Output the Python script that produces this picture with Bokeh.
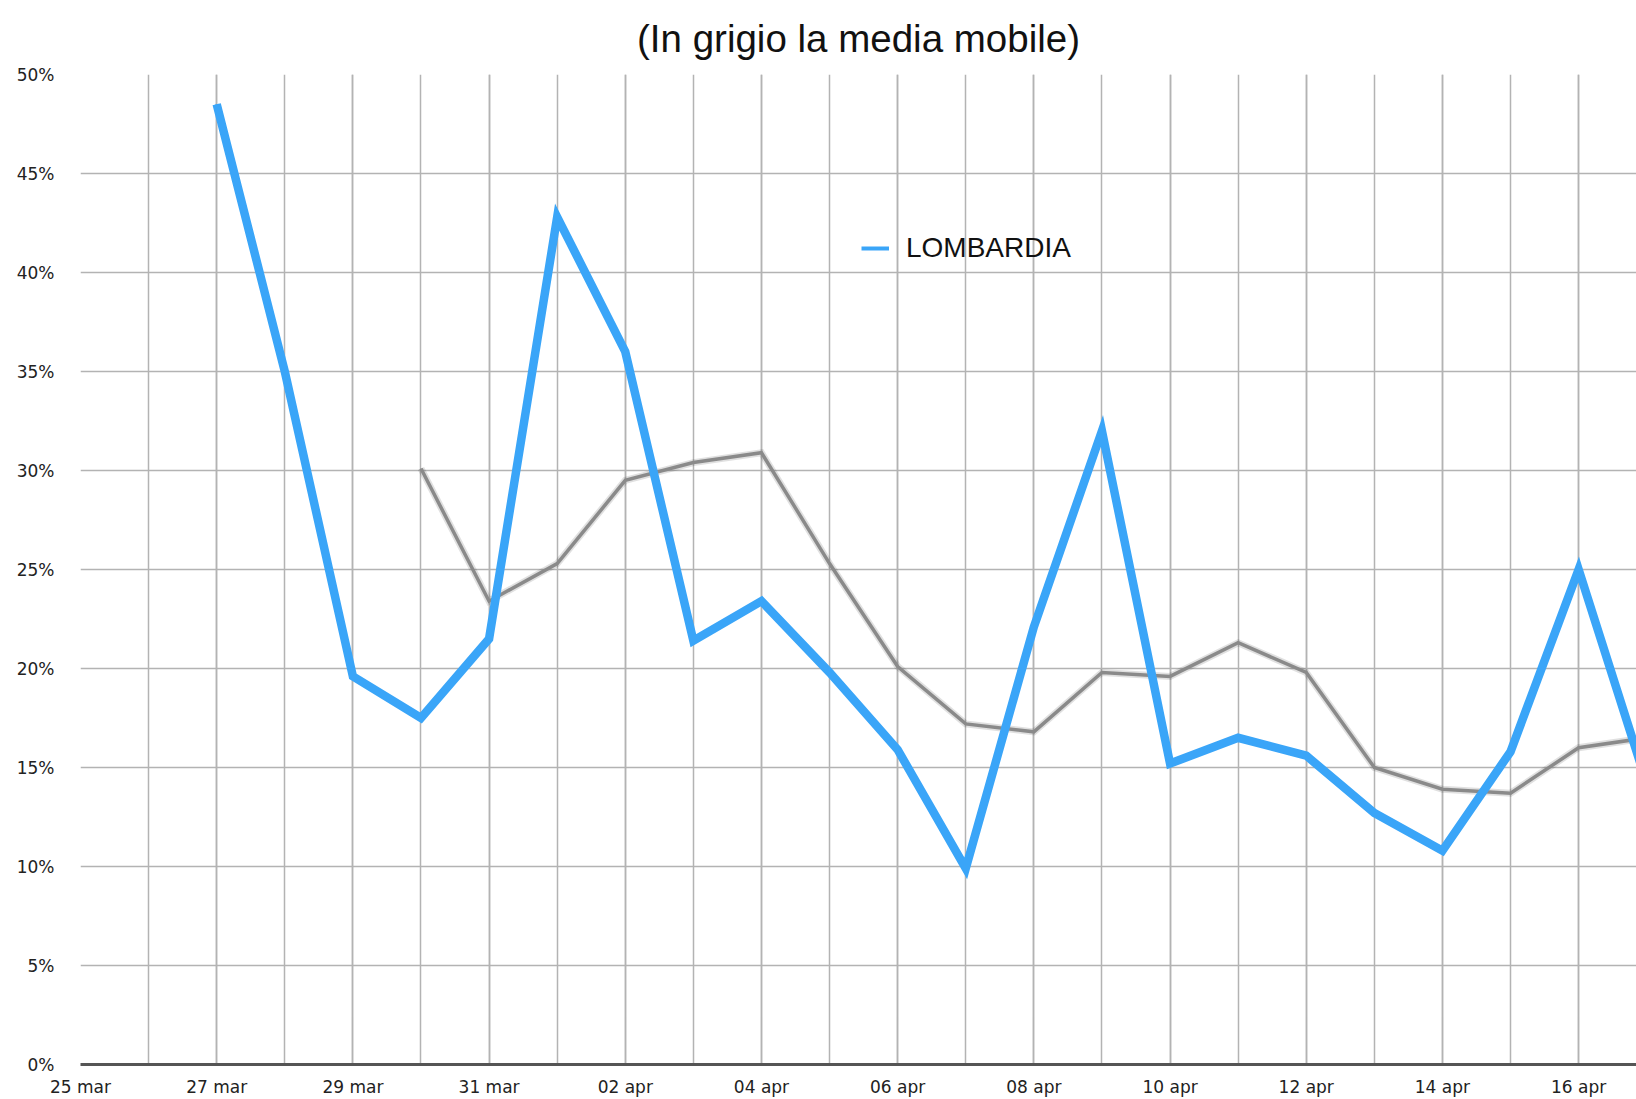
import numpy as np
from bokeh.plotting import figure
from bokeh.models import FixedTicker, PrintfTickFormatter, Legend, LegendItem, ColumnDataSource
from bokeh.embed import file_html
from bokeh.resources import INLINE

# ---- data ----
dates = ["25 mar", "26 mar", "27 mar", "28 mar", "29 mar", "30 mar", "31 mar",
         "01 apr", "02 apr", "03 apr", "04 apr", "05 apr", "06 apr", "07 apr",
         "08 apr", "09 apr", "10 apr", "11 apr", "12 apr", "13 apr", "14 apr",
         "15 apr", "16 apr", "17 apr"]
lombardia = [None, None, 48.5, 35.0, 19.6, 17.5, 21.5, 42.8, 36.0, 21.4, 23.4, 19.8,
             15.9, 9.9, 22.1, 32.0, 15.2, 16.5, 15.6, 12.7, 10.8, 15.8, 25.0, 14.2]
media_mobile = [None, None, None, None, None, 30.1, 23.4, 25.3, 29.5, 30.4, 30.9, 25.3,
                20.1, 17.2, 16.8, 19.8, 19.6, 21.3, 19.8, 15.0, 13.9, 13.7, 16.0, 16.5]
y_ticks = [0, 5, 10, 15, 20, 25, 30, 35, 40, 45, 50]
title_text = "(In grigio la media mobile)"
series_label = "LOMBARDIA"

x = list(range(len(dates)))
src = ColumnDataSource(dict(
    x=x,
    lom=[np.nan if v is None else v for v in lombardia],
    mm=[np.nan if v is None else v for v in media_mobile],
))

FONT = "Liberation Sans"
TICK_FONT = "DejaVu Sans"
BLUE = "#3AA5F8"
GRAY = "#8a8a8a"
GRID = "#b3b3b3"

p = figure(width=1636, height=1099, output_backend="svg", toolbar_location=None,
           x_range=(0, 22.85), y_range=(0, 50),
           min_border_left=80, min_border_right=0, min_border_top=73, min_border_bottom=35)
p.outline_line_color = None
p.background_fill_color = "white"

p.title.text = title_text
p.title.align = "center"
p.title.text_font = FONT
p.title.text_font_size = "38.5px"
p.title.text_font_style = "normal"
p.title.text_color = "#111111"
p.title.standoff = 29

# axes
p.xaxis.ticker = FixedTicker(ticks=x[0:23:2], minor_ticks=x)
p.xaxis.major_label_overrides = {i: dates[i] for i in x}
p.xaxis.axis_line_color = "#555555"
p.xaxis.axis_line_width = 3
p.xaxis.major_tick_line_color = None
p.xaxis.minor_tick_line_color = None
p.xaxis.major_label_standoff = 6
p.xaxis.major_label_text_font = TICK_FONT
p.xaxis.major_label_text_font_size = "17px"
p.xaxis.major_label_text_color = "#222222"

p.yaxis.ticker = FixedTicker(ticks=y_ticks)
p.yaxis.formatter = PrintfTickFormatter(format="%d%%")
p.yaxis.axis_line_color = None
p.yaxis.major_tick_line_color = None
p.yaxis.minor_tick_line_color = None
p.yaxis.major_label_standoff = 20
p.yaxis.major_label_text_font = TICK_FONT
p.yaxis.major_label_text_font_size = "17px"
p.yaxis.major_label_text_color = "#222222"

# grids
p.xgrid.grid_line_color = GRID
p.xgrid.grid_line_width = 1.5
p.xgrid.minor_grid_line_color = GRID
p.xgrid.minor_grid_line_width = 1.5
p.ygrid.grid_line_color = GRID
p.ygrid.grid_line_width = 1.5

# moving average (gray, with soft shadow)
p.line("x", "mm", source=src, line_color="black", line_alpha=0.12, line_width=7, line_join="miter")
p.line("x", "mm", source=src, line_color=GRAY, line_width=3.5, line_join="miter")

# legend-only thin line (hidden beneath the main line)
leg_r = p.line("x", "lom", source=src, line_color=BLUE, line_width=4)
p.line("x", "lom", source=src, line_color=BLUE, line_width=8.5, line_join="miter")

legend = Legend(items=[LegendItem(label=series_label, renderers=[leg_r])],
                location=(781, 800), orientation="vertical")
legend.border_line_color = None
legend.background_fill_alpha = 0
legend.padding = 0
legend.margin = 0
legend.spacing = 0
legend.glyph_width = 28
legend.glyph_height = 26
legend.label_standoff = 17
legend.label_text_font = FONT
legend.label_text_font_size = "28px"
legend.label_text_color = "#111111"
p.add_layout(legend, "center")

open("out.html", "w").write(file_html(p, INLINE))
